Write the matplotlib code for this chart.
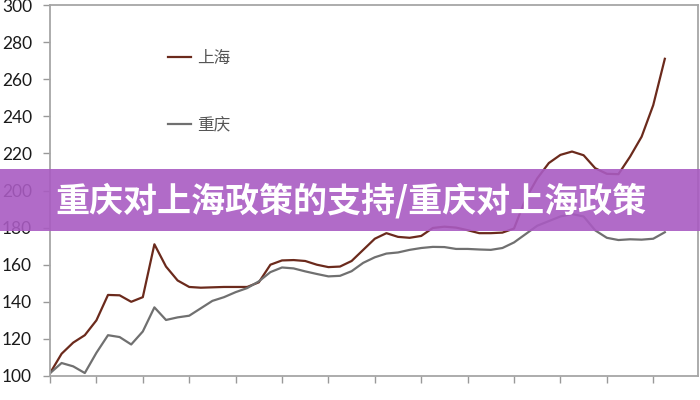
import numpy as np
import matplotlib
matplotlib.use("Agg")
import matplotlib.pyplot as plt
from matplotlib.patches import Rectangle

plt.rcParams['font.family'] = ['Noto Sans CJK SC', 'DejaVu Sans']

# 月度指数（起点=100）
shanghai = [101.5, 112, 118, 122, 130, 143.7, 143.5, 140, 142.5, 171,
            159, 151.5, 148, 147.6, 147.8, 148, 148, 148, 150.5, 160,
            162.3, 162.5, 162, 160, 158.7, 159, 162, 168, 174, 177,
            175, 174.5, 175.5, 179.8, 180.5, 180, 178.6, 177, 177, 177.3,
            179.5, 195.5, 206.5, 214.8, 219.2, 221, 219, 212, 209, 208.8,
            218.2, 229, 246, 271]
chongqing = [101.5, 107, 105.2, 101.6, 112.5, 122, 121, 117, 124, 137,
             130.2, 131.6, 132.5, 136.5, 140.5, 142.5, 145.2, 147.4, 151, 156,
             158.5, 158, 156.4, 155, 153.7, 154, 156.5, 161, 164, 166,
             166.6, 168, 169, 169.6, 169.5, 168.5, 168.5, 168.2, 168, 169,
             172, 176.5, 181, 183.5, 186, 187.3, 186, 178.5, 174.5, 173.3,
             173.7, 173.5, 174, 177.5]
tick_labels = ['2006-08', '2006-12', '2007-04', '2007-08', '2007-12', '2008-04', '2008-08',
               '2008-12', '2009-04', '2009-08', '2009-12', '2010-04', '2010-08', '2010-12']
banner_text = '重庆对上海政策的支持/重庆对上海政策'

fig = plt.figure(figsize=(7, 4), dpi=100)
ax = fig.add_axes([50 / 700, 24 / 400, 648 / 700, 371 / 400])

x = np.arange(len(shanghai))
ax.plot(x, shanghai, color='#6b2a1c', lw=1.6, label='上海')
ax.plot(x, chongqing, color='#707070', lw=1.6, label='重庆')

ax.set_xlim(0, 55.86)
ax.set_ylim(100, 300)
ax.set_yticks(range(100, 301, 20))
ax.set_xticks(range(0, len(shanghai), 4))
ax.set_xticklabels(tick_labels, rotation=45, ha='right', va='top', fontsize=11, family='Lato')
for lab in ax.get_yticklabels():
    lab.set_family('Lato')
ax.tick_params(axis='y', labelsize=12.5, colors='#999999', labelcolor='#1a1a1a', length=5, width=1, pad=8)
ax.tick_params(axis='x', colors='#999999', labelcolor='#1a1a1a', length=5, width=1, pad=12)
for s in ax.spines.values():
    s.set_color('#a6a6a6')
    s.set_linewidth(1.3)

leg = ax.legend(loc='upper left', bbox_to_anchor=(0.182, 0.878), frameon=False,
                handlelength=1.4, handletextpad=0.35, labelspacing=2.95,
                borderaxespad=0, borderpad=0, fontsize=12)
for t in leg.get_texts():
    t.set_color('#555555')

# 紫色标题横幅
fig.patches.append(Rectangle((0, 1 - 231 / 400), 1, 62 / 400, transform=fig.transFigure,
                             facecolor='#a95bc2', alpha=0.9, edgecolor='none', zorder=10))
fig.text(55 / 700, 1 - 201 / 400, banner_text, color='white', fontsize=24.5, fontweight='bold',
         ha='left', va='center', zorder=11)

fig.savefig('out.png', dpi=100)
